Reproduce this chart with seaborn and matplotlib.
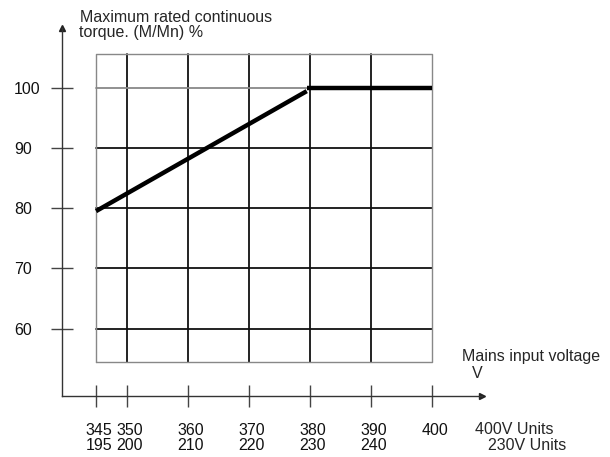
"""
Maximum rated continuous torque vs mains input voltage
"""

import pandas as pd
import matplotlib.pyplot as plt
import matplotlib.transforms as mtransforms
import seaborn as sns

sns.set_style('white')
plt.rcParams['font.family'] = ['Liberation Sans', 'DejaVu Sans']

# Data
volt_400 = [345, 350, 360, 370, 380, 390, 400]
volt_230 = [195, 200, 210, 220, 230, 240, None]
torque_ticks = [60, 70, 80, 90, 100]

ramp_v = [345, 379.5]
ramp_t = [79.5, 99.4]
flat_v = [379.5, 400]
flat_t = [100, 100]

box_x = (345, 400)
box_y = (54.5, 105.5)

W, H = 610, 457
FS = 11.5
fig = plt.figure(figsize=(W / 100, H / 100), dpi=100)
ax = fig.add_axes([62 / W, 1 - 396 / H, (482 - 62) / W, (396 - 28) / H])
ax.set_xlim(339.43, 408.19)
ax.set_ylim(48.84, 109.87)

# Grid box
for v in volt_400[1:-1]:
    ax.plot([v, v], box_y, color='#111111', lw=1.3, zorder=1)
for t in torque_ticks:
    col = '#888888' if t == 100 else '#111111'
    ax.plot(box_x, [t, t], color=col, lw=1.3, zorder=1)
ax.plot([box_x[0], box_x[1], box_x[1], box_x[0], box_x[0]],
        [box_y[0], box_y[0], box_y[1], box_y[1], box_y[0]],
        color='#888888', lw=1, zorder=1)

# Torque curve
ramp = pd.DataFrame({'v': ramp_v, 't': ramp_t})
flat = pd.DataFrame({'v': flat_v, 't': flat_t})
sns.lineplot(data=ramp, x='v', y='t', ax=ax, color='black', lw=3.2, zorder=3,
             solid_capstyle='butt')
sns.lineplot(data=flat, x='v', y='t', ax=ax, color='black', lw=3.2, zorder=3,
             solid_capstyle='butt')
ax.set_xlabel('')
ax.set_ylabel('')

# Axis lines with arrows
for s in ['top', 'right']:
    ax.spines[s].set_visible(False)
for s in ['left', 'bottom']:
    ax.spines[s].set_color('#333333')
    ax.spines[s].set_linewidth(1)
ax.plot(1, 0, '>', color='#222222', ms=4, transform=ax.transAxes, clip_on=False)
ax.plot(0, 1, '^', color='#222222', ms=4, transform=ax.transAxes, clip_on=False)

ax.set_xticks(volt_400)
ax.set_xticklabels([f'{a}\n{b}' if b else f'{a}\n' for a, b in zip(volt_400, volt_230)])
ax.set_yticks(torque_ticks)
ax.set_yticklabels([str(t) for t in torque_ticks])
ax.tick_params(axis='both', direction='inout', length=15.8, width=1, color='#444444',
               labelsize=FS, labelcolor='#111111', bottom=True, left=True)
ax.tick_params(axis='x', pad=11.5)
ax.tick_params(axis='y', pad=26.5)
shift = mtransforms.ScaledTranslation(3 / 100, 0, fig.dpi_scale_trans)
for lab in ax.get_xticklabels():
    lab.set_linespacing(1.02)
    lab.set_transform(lab.get_transform() + shift)
for lab in ax.get_yticklabels():
    lab.set_horizontalalignment('left')

# Axis titles
fig.text(80 / W, 1 - 18 / H, 'Maximum rated continuous', fontsize=FS, va='center', ha='left')
fig.text(79 / W, 1 - 33 / H, 'torque. (M/Mn) %', fontsize=FS, va='center', ha='left')
fig.text(462 / W, 1 - 357 / H, 'Mains input voltage', fontsize=FS, va='center', ha='left')
fig.text(477 / W, 1 - 373 / H, 'V', fontsize=FS, va='center', ha='center')
fig.text(475 / W, 1 - 430 / H, '400V Units', fontsize=FS, va='center', ha='left')
fig.text(488 / W, 1 - 445 / H, '230V Units', fontsize=FS, va='center', ha='left')

fig.savefig('out.png', dpi=100)
